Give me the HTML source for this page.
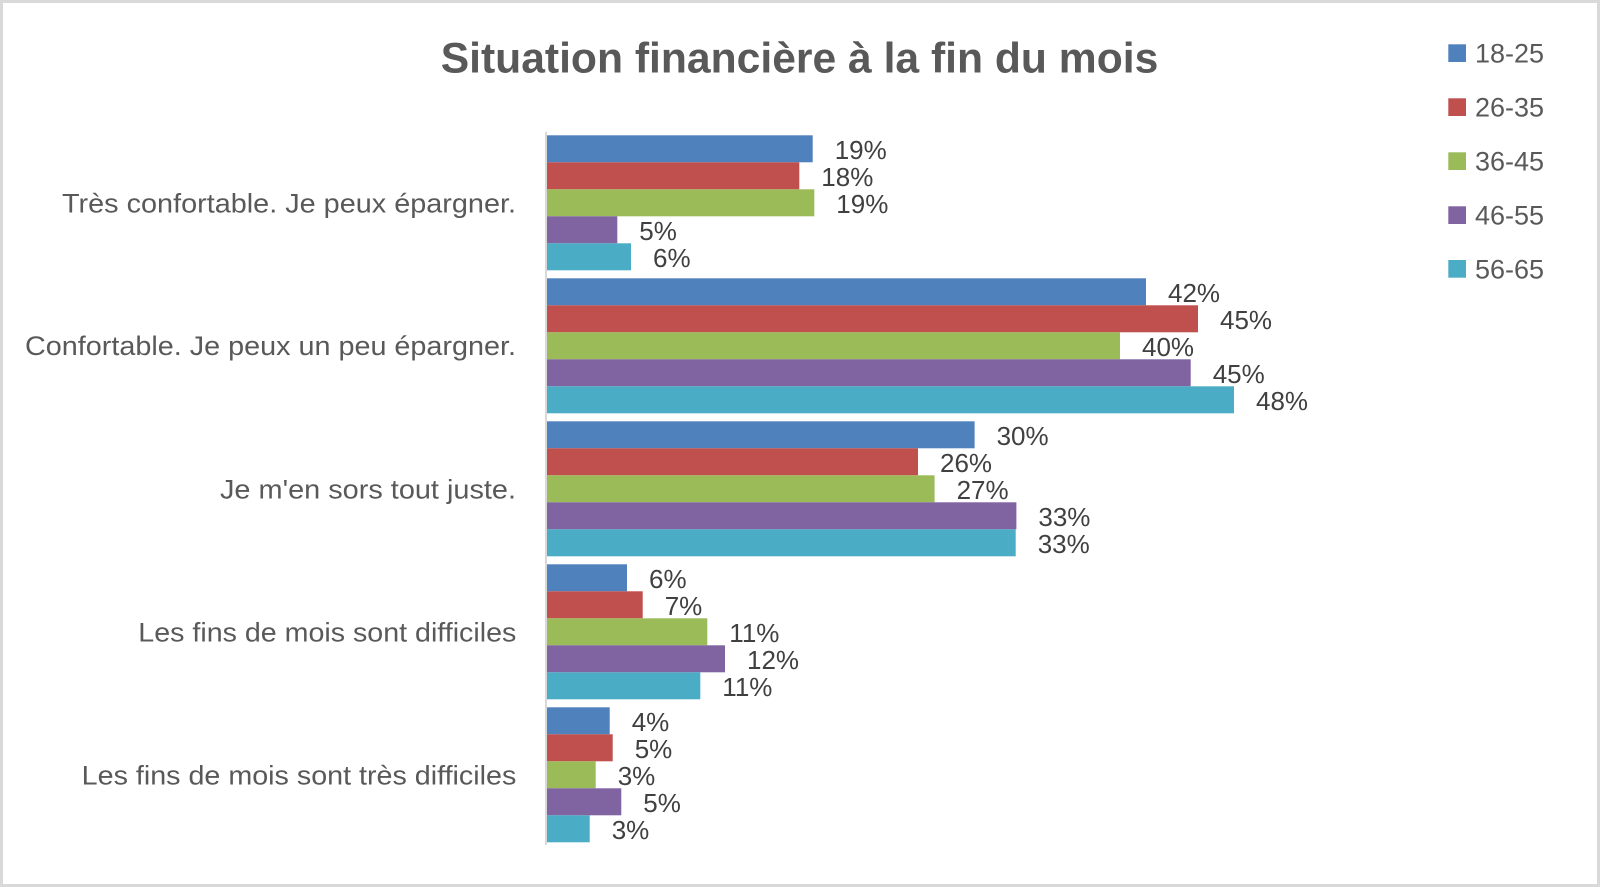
<!DOCTYPE html>
<html>
<head>
<meta charset="utf-8">
<style>
html,body{margin:0;padding:0;background:#fff;}
svg{display:block;}
text{font-family:"Liberation Sans",sans-serif;}
</style>
</head>
<body>
<svg width="1600" height="887" viewBox="0 0 1600 887" xmlns="http://www.w3.org/2000/svg">
<rect x="0" y="0" width="1600" height="887" fill="#fff"/>
<rect x="1.5" y="1.5" width="1597" height="884" fill="none" stroke="#d9d9d9" stroke-width="3"/>

<text x="440.7" y="72.7" font-size="43" font-weight="bold" fill="#595959" textLength="717.6" lengthAdjust="spacingAndGlyphs">Situation financière à la fin du mois</text>

<!-- Legend -->
<g font-size="27" fill="#595959">
<rect x="1448.3" y="44.3" width="17.7" height="17.7" fill="#4F81BD"/>
<text x="1475" y="62.3">18-25</text>
<rect x="1448.3" y="98.3" width="17.7" height="17.7" fill="#C0504D"/>
<text x="1475" y="116.3">26-35</text>
<rect x="1448.3" y="152.3" width="17.7" height="17.7" fill="#9BBB59"/>
<text x="1475" y="170.3">36-45</text>
<rect x="1448.3" y="206.3" width="17.7" height="17.7" fill="#8064A2"/>
<text x="1475" y="224.3">46-55</text>
<rect x="1448.3" y="260" width="17.7" height="17.7" fill="#4BACC6"/>
<text x="1475" y="278.3">56-65</text>
</g>

<!-- Category labels -->
<g font-size="27" fill="#595959">
<text x="62" y="212.3" textLength="454" lengthAdjust="spacingAndGlyphs">Très confortable. Je peux épargner.</text>
<text x="25" y="355" textLength="491" lengthAdjust="spacingAndGlyphs">Confortable. Je peux un peu épargner.</text>
<text x="220" y="498.3" textLength="296" lengthAdjust="spacingAndGlyphs">Je m'en sors tout juste.</text>
<text x="138.3" y="641.7" textLength="378" lengthAdjust="spacingAndGlyphs">Les fins de mois sont difficiles</text>
<text x="81.7" y="784.3" textLength="434.6" lengthAdjust="spacingAndGlyphs">Les fins de mois sont très difficiles</text>
</g>

<!-- Bars -->
<g>
<!-- Group 1 top 135.3 -->
<rect x="547" y="135.3" width="265.7" height="27" fill="#4F81BD"/>
<rect x="547" y="162.3" width="252.3" height="27" fill="#C0504D"/>
<rect x="547" y="189.3" width="267.3" height="27" fill="#9BBB59"/>
<rect x="547" y="216.3" width="70.3" height="27" fill="#8064A2"/>
<rect x="547" y="243.3" width="84" height="27" fill="#4BACC6"/>
<!-- Group 2 top 278.3 -->
<rect x="547" y="278.3" width="599" height="27" fill="#4F81BD"/>
<rect x="547" y="305.3" width="651" height="27" fill="#C0504D"/>
<rect x="547" y="332.3" width="573" height="27" fill="#9BBB59"/>
<rect x="547" y="359.3" width="643.7" height="27" fill="#8064A2"/>
<rect x="547" y="386.3" width="687" height="27" fill="#4BACC6"/>
<!-- Group 3 top 421.3 -->
<rect x="547" y="421.3" width="427.6" height="27" fill="#4F81BD"/>
<rect x="547" y="448.3" width="371" height="27" fill="#C0504D"/>
<rect x="547" y="475.3" width="387.6" height="27" fill="#9BBB59"/>
<rect x="547" y="502.3" width="469.4" height="27" fill="#8064A2"/>
<rect x="547" y="529.3" width="468.7" height="27" fill="#4BACC6"/>
<!-- Group 4 top 564.3 -->
<rect x="547" y="564.3" width="80" height="27" fill="#4F81BD"/>
<rect x="547" y="591.3" width="95.7" height="27" fill="#C0504D"/>
<rect x="547" y="618.3" width="160.3" height="27" fill="#9BBB59"/>
<rect x="547" y="645.3" width="178" height="27" fill="#8064A2"/>
<rect x="547" y="672.3" width="153.3" height="27" fill="#4BACC6"/>
<!-- Group 5 top 707.3 -->
<rect x="547" y="707.3" width="62.7" height="27" fill="#4F81BD"/>
<rect x="547" y="734.3" width="65.7" height="27" fill="#C0504D"/>
<rect x="547" y="761.3" width="48.7" height="27" fill="#9BBB59"/>
<rect x="547" y="788.3" width="74.3" height="27" fill="#8064A2"/>
<rect x="547" y="815.3" width="42.7" height="27" fill="#4BACC6"/>
</g>

<!-- Axis -->
<line x1="546" y1="131.7" x2="546" y2="845" stroke="#d9d9d9" stroke-width="2"/>

<!-- Value labels -->
<g font-size="26" fill="#404040">
<text x="834.7" y="158.8">19%</text>
<text x="821.3" y="185.8">18%</text>
<text x="836.3" y="212.8">19%</text>
<text x="639.3" y="239.8">5%</text>
<text x="653" y="266.8">6%</text>

<text x="1168" y="301.8">42%</text>
<text x="1220" y="328.8">45%</text>
<text x="1142" y="355.8">40%</text>
<text x="1212.7" y="382.8">45%</text>
<text x="1256" y="409.8">48%</text>

<text x="996.6" y="444.8">30%</text>
<text x="940" y="471.8">26%</text>
<text x="956.6" y="498.8">27%</text>
<text x="1038.4" y="525.8">33%</text>
<text x="1037.7" y="552.8">33%</text>

<text x="649" y="587.8">6%</text>
<text x="664.7" y="614.8">7%</text>
<text x="729.3" y="641.8">11%</text>
<text x="747" y="668.8">12%</text>
<text x="722.3" y="695.8">11%</text>

<text x="631.7" y="730.8">4%</text>
<text x="634.7" y="757.8">5%</text>
<text x="617.7" y="784.8">3%</text>
<text x="643.3" y="811.8">5%</text>
<text x="611.7" y="838.8">3%</text>
</g>
</svg>
</body>
</html>
